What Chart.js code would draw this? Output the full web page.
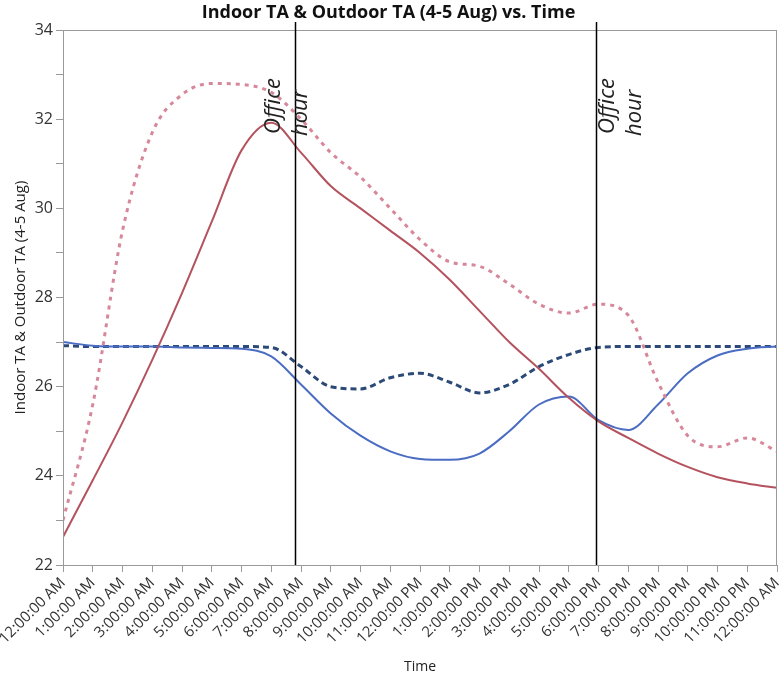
<!DOCTYPE html>
<html>
<head>
<meta charset="utf-8">
<script src="https://cdn.jsdelivr.net/npm/chart.js@4.4.1/dist/chart.umd.min.js"></script>
<style>
    body { margin: 0; background: #fff; }
    canvas { display: block; }
</style>
</head>
<body>
<canvas id="chart" width="784" height="679"></canvas>
<script>
// Heures (0 = 12:00:00 AM, 24 = minuit suivant)
const hours = [0, 1, 2, 3, 4, 5, 6, 7, 8, 9, 10, 11, 12, 13, 14, 15, 16, 17, 18, 19, 20, 21, 22, 23, 24];

const timeLabels = [
    '12:00:00 AM', '1:00:00 AM', '2:00:00 AM', '3:00:00 AM', '4:00:00 AM', '5:00:00 AM',
    '6:00:00 AM', '7:00:00 AM', '8:00:00 AM', '9:00:00 AM', '10:00:00 AM', '11:00:00 AM',
    '12:00:00 PM', '1:00:00 PM', '2:00:00 PM', '3:00:00 PM', '4:00:00 PM', '5:00:00 PM',
    '6:00:00 PM', '7:00:00 PM', '8:00:00 PM', '9:00:00 PM', '10:00:00 PM', '11:00:00 PM',
    '12:00:00 AM'
];

// Séries
const outdoorSolid = [22.63, 23.9, 25.2, 26.6, 28.1, 29.7, 31.3, 31.92, 31.25, 30.5, 30.0, 29.5,
    29.0, 28.4, 27.7, 27.0, 26.4, 25.75, 25.22, 24.85, 24.5, 24.2, 23.97, 23.83, 23.73];
const outdoorDashed = [23.0, 25.6, 29.5, 31.7, 32.55, 32.8, 32.78, 32.6, 32.0, 31.25, 30.7, 30.0,
    29.3, 28.8, 28.7, 28.3, 27.85, 27.65, 27.85, 27.6, 26.1, 24.9, 24.65, 24.85, 24.55];
const indoorSolid = [27.0, 26.92, 26.9, 26.9, 26.88, 26.87, 26.85, 26.68, 26.05, 25.4, 24.9, 24.55,
    24.38, 24.36, 24.5, 25.0, 25.6, 25.78, 25.25, 25.03, 25.6, 26.3, 26.7, 26.85, 26.9];
const indoorDashed = [26.92, 26.9, 26.9, 26.9, 26.9, 26.9, 26.9, 26.88, 26.45, 26.0, 25.95, 26.2,
    26.3, 26.1, 25.86, 26.05, 26.45, 26.72, 26.88, 26.9, 26.9, 26.9, 26.9, 26.9, 26.9];

const yTicks = [22, 24, 26, 28, 30, 32, 34];

// Repères "Office hour" (en heures)
const officeLines = [7.8, 17.9];
const officeLabels = [7.1, 18.3];

const toPoints = (values) => values.map((v, i) => ({ x: hours[i], y: v }));

const frameAndOffice = {
    id: 'frameAndOffice',
    afterDatasetsDraw(chart) {
        const { ctx, chartArea, scales } = chart;
        ctx.save();
        // Cadre du graphique
        ctx.strokeStyle = '#9a9a9a';
        ctx.lineWidth = 1;
        ctx.strokeRect(chartArea.left + 0.5, chartArea.top + 0.5,
            chartArea.right - chartArea.left - 1, chartArea.bottom - chartArea.top);

        // Lignes verticales
        ctx.strokeStyle = '#000';
        ctx.lineWidth = 1.5;
        officeLines.forEach(h => {
            const x = Math.round(scales.x.getPixelForValue(h)) + 0.5;
            ctx.beginPath();
            ctx.moveTo(x, 22);
            ctx.lineTo(x, chartArea.bottom);
            ctx.stroke();
        });

        // Texte "Office hour"
        ctx.fillStyle = '#222';
        ctx.font = 'italic 22px "Open Sans"';
        ctx.textAlign = 'left';
        ctx.textBaseline = 'middle';
        officeLabels.forEach(h => {
            const x = scales.x.getPixelForValue(h);
            ctx.save();
            ctx.translate(x, 134);
            ctx.rotate(-Math.PI / 2);
            ctx.fillText('Office', 0, 0);
            ctx.fillText('hour', -2, 27);
            ctx.restore();
        });
        ctx.restore();
    }
};

const ctx = document.getElementById('chart');
new Chart(ctx, {
    type: 'line',
    data: {
        datasets: [
            {
                label: 'Outdoor TA (4 Aug)',
                data: toPoints(outdoorSolid),
                borderColor: '#b4525e',
                borderWidth: 2,
                pointRadius: 0,
                cubicInterpolationMode: 'monotone'
            },
            {
                label: 'Outdoor TA (5 Aug)',
                data: toPoints(outdoorDashed),
                borderColor: '#d6889a',
                borderWidth: 3,
                borderDash: [4, 5],
                pointRadius: 0,
                cubicInterpolationMode: 'monotone'
            },
            {
                label: 'Indoor TA (4 Aug)',
                data: toPoints(indoorSolid),
                borderColor: '#4a6cc2',
                borderWidth: 2,
                pointRadius: 0,
                cubicInterpolationMode: 'monotone'
            },
            {
                label: 'Indoor TA (5 Aug)',
                data: toPoints(indoorDashed),
                borderColor: '#2b4a78',
                borderWidth: 3,
                borderDash: [6, 4],
                pointRadius: 0,
                cubicInterpolationMode: 'monotone'
            }
        ]
    },
    options: {
        responsive: false,
        animation: false,
        events: [],
        layout: { padding: { top: 0, right: 7, bottom: 0, left: 0 } },
        plugins: {
            legend: { display: false },
            tooltip: { enabled: false },
            title: {
                display: true,
                text: 'Indoor TA & Outdoor TA (4-5 Aug) vs. Time',
                color: '#111',
                font: { family: '"Open Sans"', size: 18, weight: 'bold' },
                padding: { top: 2, bottom: 6.4 }
            }
        },
        scales: {
            x: {
                type: 'linear',
                min: 0,
                max: 24,
                afterFit: (scale) => {
                    scale.height = 114;
                    scale.paddingRight = 0;
                },
                border: { display: true, color: '#9a9a9a' },
                grid: { display: true, drawOnChartArea: false, drawTicks: true, tickLength: 7, color: '#9a9a9a' },
                ticks: {
                    stepSize: 1,
                    autoSkip: false,
                    minRotation: 45,
                    maxRotation: 45,
                    padding: 2,
                    color: '#333',
                    font: { family: '"Open Sans"', size: 15 },
                    callback: (v) => timeLabels[Math.round(v)]
                },
                title: {
                    display: true,
                    text: 'Time',
                    color: '#222',
                    font: { family: '"Open Sans"', size: 14 },
                    padding: { top: 0, bottom: 4 }
                }
            },
            y: {
                min: 22,
                max: 34,
                afterFit: (scale) => { scale.width = 63; },
                border: { display: true, color: '#9a9a9a' },
                grid: { display: true, drawOnChartArea: false, drawTicks: true, tickLength: 7, color: '#9a9a9a' },
                ticks: {
                    stepSize: 1,
                    padding: 3,
                    color: '#333',
                    font: { family: '"Open Sans"', size: 16 },
                    callback: (v) => yTicks.includes(v) ? v : ''
                },
                title: {
                    display: true,
                    text: 'Indoor TA & Outdoor TA (4-5 Aug)',
                    color: '#222',
                    font: { family: '"Open Sans"', size: 15 },
                    padding: { top: 12, bottom: 0 }
                }
            }
        }
    },
    plugins: [frameAndOffice]
});
</script>
</body>
</html>
